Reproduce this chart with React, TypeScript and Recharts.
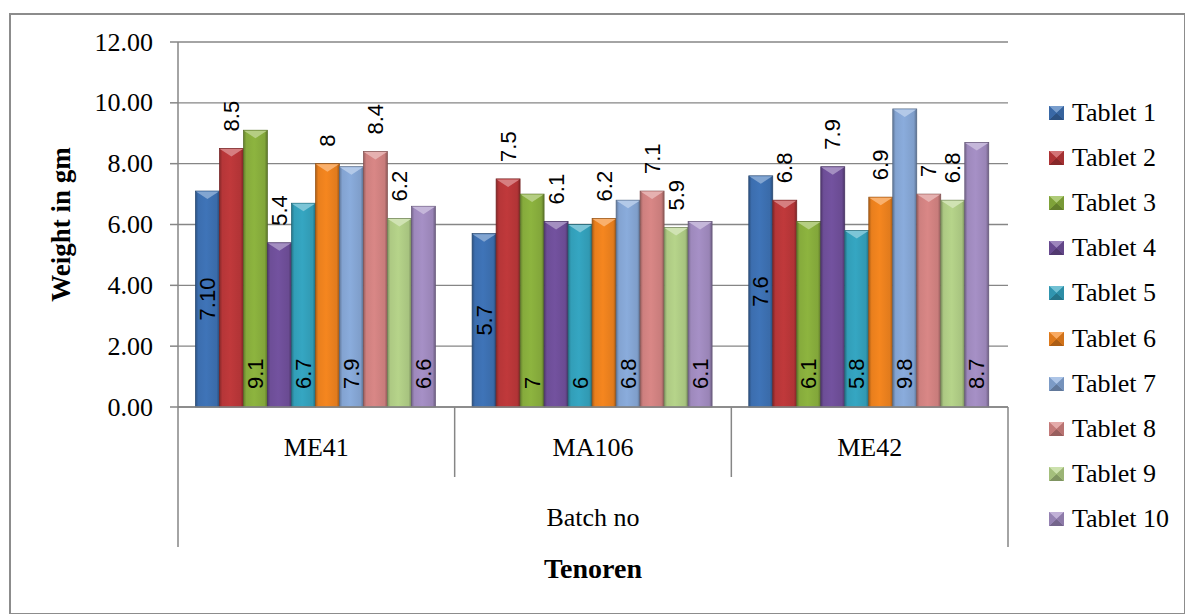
import { BarChart, Bar, XAxis, YAxis, CartesianGrid, Legend } from 'recharts';

const batches = ['ME41', 'MA106', 'ME42'];
const tablets = ['Tablet 1', 'Tablet 2', 'Tablet 3', 'Tablet 4', 'Tablet 5', 'Tablet 6', 'Tablet 7', 'Tablet 8', 'Tablet 9', 'Tablet 10'];

const tablet1 = [7.1, 5.7, 7.6];
const tablet2 = [8.5, 7.5, 6.8];
const tablet3 = [9.1, 7.0, 6.1];
const tablet4 = [5.4, 6.1, 7.9];
const tablet5 = [6.7, 6.0, 5.8];
const tablet6 = [8.0, 6.2, 6.9];
const tablet7 = [7.9, 6.8, 9.8];
const tablet8 = [8.4, 7.1, 7.0];
const tablet9 = [6.2, 5.9, 6.8];
const tablet10 = [6.6, 6.1, 8.7];

const yTicks = [0, 2, 4, 6, 8, 10, 12];
const groupName = 'Batch no';

// label text that differs from the plain number
const labelOverrides: Record<string, string> = { 'ME41|Tablet 1': '7.10' };

const seriesValues = [tablet1, tablet2, tablet3, tablet4, tablet5, tablet6, tablet7, tablet8, tablet9, tablet10];
const colors = ['#3F74B8', '#C0393B', '#8DB43F', '#73529F', '#35A6C2', '#F5861F', '#8AACDC', '#D98786', '#B6D48A', '#A690C6'];
const labelModes = ['center', 'outside', 'base', 'outside', 'base', 'outside', 'base', 'outside', 'outside', 'base'];

const data = batches.map((b, i) => {
  const row: any = { batch: b, group: groupName };
  tablets.forEach((t, k) => {
    row[t] = seriesValues[k][i];
  });
  return row;
});

const AXIS = '#868686';
const SERIF = "'Liberation Serif', 'Times New Roman', Tinos, 'DejaVu Serif', serif";
const SANS = "'Liberation Sans', Arial, sans-serif";

function shade(hex: string, amt: number) {
  const n = parseInt(hex.slice(1), 16);
  const f = (c: number) => {
    const v = amt >= 0 ? c + (255 - c) * amt : c * (1 + amt);
    return Math.max(0, Math.min(255, Math.round(v)));
  };
  const r = f((n >> 16) & 255), g = f((n >> 8) & 255), b = f(n & 255);
  return '#' + ((1 << 24) + (r << 16) + (g << 8) + b).toString(16).slice(1);
}

function BevelBar(props: any) {
  const { x, y, width, height, k, index } = props;
  if (!height || height <= 0) return null;
  const c = colors[k];
  const id = 'bev-' + k + '-' + index;
  const tip = Math.min(8, height / 2);
  return (
    <g>
      <defs>
        <linearGradient id={id} x1="0" y1="0" x2="1" y2="0">
          <stop offset="0%" stopColor={shade(c, -0.3)} />
          <stop offset="12%" stopColor={shade(c, -0.05)} />
          <stop offset="45%" stopColor={c} />
          <stop offset="88%" stopColor={shade(c, -0.08)} />
          <stop offset="100%" stopColor={shade(c, -0.35)} />
        </linearGradient>
      </defs>
      <rect x={x} y={y} width={width} height={height} fill={`url(#${id})`} stroke={shade(c, -0.4)} strokeWidth={0.7} />
      <polygon
        points={`${x + 0.5},${y + 0.5} ${x + width - 0.5},${y + 0.5} ${x + width / 2},${y + tip}`}
        fill={shade(c, 0.35)}
      />
    </g>
  );
}

function renderLabel(p: any, k: number) {
  const { x, y, width, height, value, index } = p;
  if (value == null) return null;
  const mode = labelModes[k];
  const cx = x + width / 2;
  let ty = y + height / 2;
  let anchor = 'middle';
  if (mode === 'outside') {
    ty = y - 17;
    anchor = 'start';
  } else if (mode === 'base') {
    ty = y + height - 18;
    anchor = 'start';
  }
  const key = batches[index] + '|' + tablets[k];
  const text = labelOverrides[key] ?? String(value);
  return (
    <text
      key={'lbl-' + k + '-' + index}
      x={cx}
      y={ty}
      transform={`rotate(-90 ${cx} ${ty})`}
      textAnchor={anchor}
      dominantBaseline="central"
      fontSize={22}
      style={{ fontFamily: SANS }}
      fill="#000"
    >
      {text}
    </text>
  );
}

function BatchTick(props: any) {
  const { x, y, payload, index, visibleTicksCount, width } = props;
  const half = payload.offset || width / visibleTicksCount / 2;
  const h = 70;
  return (
    <g>
      <line x1={x - half} x2={x - half} y1={y} y2={y + h} stroke={AXIS} strokeWidth={1.5} />
      {index === visibleTicksCount - 1 && (
        <line x1={x + half} x2={x + half} y1={y} y2={y + h} stroke={AXIS} strokeWidth={1.5} />
      )}
      <text x={x} y={y + 40} textAnchor="middle" dominantBaseline="central" fontSize={26} style={{ fontFamily: SERIF }} fill="#000">
        {payload.value}
      </text>
    </g>
  );
}

function GroupTick(props: any) {
  const { x, y, payload, width, visibleTicksCount } = props;
  const half = payload.offset || width / visibleTicksCount / 2;
  const h = 70;
  return (
    <g>
      <line x1={x - half} x2={x - half} y1={y} y2={y + h} stroke={AXIS} strokeWidth={1.5} />
      <line x1={x + half} x2={x + half} y1={y} y2={y + h} stroke={AXIS} strokeWidth={1.5} />
      <text x={x} y={y + 40} textAnchor="middle" dominantBaseline="central" fontSize={26} style={{ fontFamily: SERIF }} fill="#000">
        {payload.value}
      </text>
    </g>
  );
}

function YTick(props: any) {
  const { x, y, payload } = props;
  return (
    <text x={x} y={y} textAnchor="end" dominantBaseline="central" fontSize={26} style={{ fontFamily: SERIF }} fill="#000">
      {Number(payload.value).toFixed(2)}
    </text>
  );
}

function LegendMarker({ c }: { c: string }) {
  return (
    <svg width={15} height={14} style={{ marginRight: 8, flex: 'none' }}>
      <rect x={0} y={0} width={15} height={14} fill={c} />
      <polygon points="0,0 15,0 7.5,7" fill={shade(c, 0.3)} />
      <polygon points="0,14 15,14 7.5,7" fill={shade(c, -0.3)} />
      <polygon points="0,0 0,14 7.5,7" fill={shade(c, -0.1)} />
      <polygon points="15,0 15,14 7.5,7" fill={shade(c, -0.15)} />
    </svg>
  );
}

function LegendList() {
  return (
    <div style={{ paddingLeft: 41 }}>
      {tablets.map((t, k) => (
        <div key={t} style={{ display: 'flex', alignItems: 'center', height: 45.2 }}>
          <LegendMarker c={colors[k]} />
          <span style={{ fontFamily: SERIF, fontSize: 26, color: '#000', whiteSpace: 'nowrap' }}>{t}</span>
        </div>
      ))}
    </div>
  );
}

export default function App() {
  return (
    <div style={{ position: 'absolute', left: 0, top: 0, width: 1185, height: 614, background: '#fff', fontFamily: SERIF }}>
      <div
        style={{
          position: 'absolute',
          left: 9,
          top: 13,
          width: 1173,
          height: 598,
          border: '2px solid #8c8c8c',
        }}
      />
      <BarChart
        width={1185}
        height={614}
        data={data}
        margin={{ top: 42, right: 0, bottom: 67, left: 78 }}
        barCategoryGap="6.3%"
        barGap={0}
        style={{ position: 'absolute', left: 0, top: 0 }}
      >
        <CartesianGrid vertical={false} stroke={AXIS} strokeWidth={1.4} />
        <YAxis
          domain={[0, 12]}
          ticks={yTicks}
          width={100}
          tick={<YTick />}
          tickSize={8}
          tickMargin={17}
          axisLine={{ stroke: AXIS, strokeWidth: 1.5 }}
          tickLine={{ stroke: AXIS, strokeWidth: 1.5 }}
          label={(p: any) => {
            const vb = p.viewBox;
            const lx = vb.x - 17;
            const ly = vb.y + vb.height / 2;
            return (
              <text
                x={lx}
                y={ly}
                transform={`rotate(-90 ${lx} ${ly})`}
                textAnchor="middle"
                dominantBaseline="central"
                fontSize={27}
                fontWeight="bold"
                style={{ fontFamily: SERIF }}
                fill="#000"
              >
                Weight in gm
              </text>
            );
          }}
        />
        <XAxis
          dataKey="batch"
          height={70}
          tickSize={0}
          tickMargin={0}
          tickLine={false}
          axisLine={{ stroke: AXIS, strokeWidth: 1.5 }}
          tick={<BatchTick />}
          interval={0}
        />
        <XAxis
          xAxisId="group"
          dataKey="group"
          allowDuplicatedCategory={false}
          height={70}
          tickSize={0}
          tickMargin={0}
          tickLine={false}
          axisLine={false}
          tick={<GroupTick />}
          label={(p: any) => {
            const vb = p.viewBox;
            return (
              <text
                x={vb.x + vb.width / 2}
                y={vb.y + vb.height + 21}
                textAnchor="middle"
                dominantBaseline="central"
                fontSize={28}
                fontWeight="bold"
                style={{ fontFamily: SERIF }}
                fill="#000"
              >
                Tenoren
              </text>
            );
          }}
        />
        <Legend
          layout="vertical"
          align="right"
          verticalAlign="top"
          wrapperStyle={{ left: 1008, top: 90, width: 177 }}
          content={() => <LegendList />}
        />
        {tablets.map((t, k) => (
          <Bar
            key={t}
            dataKey={t}
            isAnimationActive={false}
            fill={colors[k]}
            shape={(p: any) => <BevelBar {...p} k={k} />}
            label={(p: any) => renderLabel(p, k)}
          />
        ))}
      </BarChart>
    </div>
  );
}
